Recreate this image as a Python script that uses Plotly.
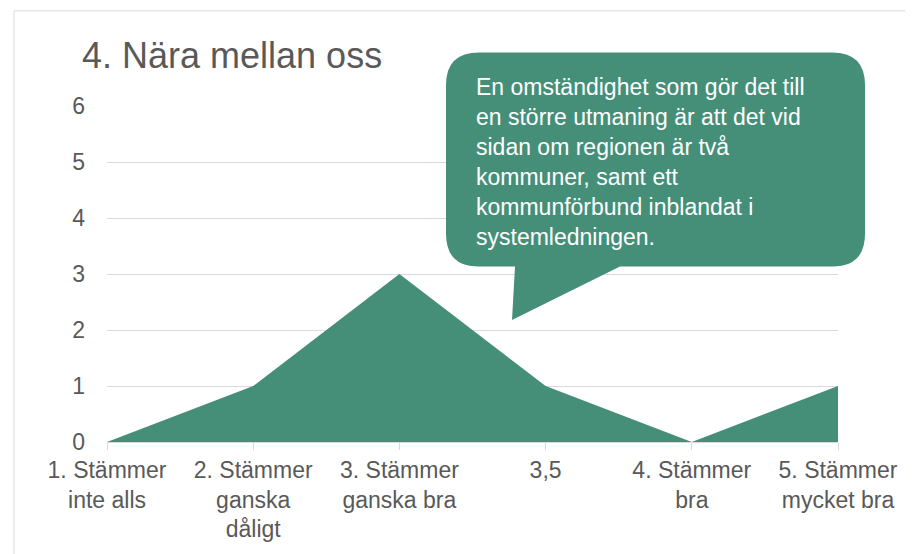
import plotly.graph_objects as go

categories = ["1. Stämmer<br>inte alls", "2. Stämmer<br>ganska<br>dåligt", "3. Stämmer<br>ganska bra",
              "3,5", "4. Stämmer<br>bra", "5. Stämmer<br>mycket bra"]
values = [0, 1, 3, 1, 0, 1]
y_ticks = [0, 1, 2, 3, 4, 5, 6]
title_text = "4. Nära mellan oss"
bubble_text = ("En omständighet som gör det till<br>en större utmaning är att det vid<br>"
               "sidan om regionen är två<br>kommuner, samt ett<br>kommunförbund inblandat i<br>"
               "systemledningen.")

OFF = 8  # page body margin
W, H = 913 - OFF, 554 - OFF
PL, PR, PT, PB = 107, 838, 106, 445  # plot area in window pixels
L, R, T, B = PL - OFF, W - (PR - OFF), PT - OFF, H - (PB - OFF)
GREEN = "#458f79"
GREY = "#595959"
GRID = "#d9d9d9"
FONT = "Liberation Sans, Arial, sans-serif"

def px(x):
    return (x - PL) / (PR - PL)

def py(y):
    return (PB - y) / (PB - PT)

xs = list(range(len(categories)))

fig = go.Figure()
fig.add_trace(go.Scatter(x=xs, y=values, mode="lines", fill="tozeroy",
                         fillcolor=GREEN, line=dict(width=0, color=GREEN),
                         hoverinfo="skip", showlegend=False))

# speech bubble (window pixel coordinates)
x0, x1, y0, y1, r = 446, 865, 52, 268, 33
pts = [("M", [(x0 + r, y0)]), ("L", [(x1 - r, y0)]), ("Q", [(x1, y0), (x1, y0 + r)]),
       ("L", [(x1, y1 - r)]), ("Q", [(x1, y1), (x1 - r, y1)]), ("L", [(620, y1)]),
       ("L", [(512, 322)]), ("L", [(515, y1)]), ("L", [(x0 + r, y1)]),
       ("Q", [(x0, y1), (x0, y1 - r)]), ("L", [(x0, y0 + r)]), ("Q", [(x0, y0), (x0 + r, y0)])]
path = ""
for cmd, coords in pts:
    path += cmd + " " + " ".join(f"{px(a):.5f},{py(b):.5f}" for a, b in coords) + " "
path += "Z"

shapes = [
    dict(type="rect", xref="paper", yref="paper", x0=px(14), x1=px(1000), y0=py(10), y1=py(700),
         line=dict(color=GRID, width=1), fillcolor="rgba(0,0,0,0)", layer="below"),
    dict(type="path", xref="paper", yref="paper", path=path, fillcolor=GREEN,
         line=dict(width=0), layer="above"),
]

annotations = [
    dict(text=title_text, xref="paper", yref="paper", x=px(80), y=py(55), xanchor="left",
         yanchor="middle", showarrow=False, font=dict(size=36, color=GREY, family=FONT)),
    dict(text=bubble_text, xref="paper", yref="paper", x=px(474), y=py(72), xanchor="left",
         yanchor="top", align="left", showarrow=False,
         font=dict(size=23, color="white", family=FONT)),
]

fig.update_layout(
    width=W, height=H, margin=dict(l=L, r=R, t=T, b=B),
    paper_bgcolor="white", plot_bgcolor="white",
    font=dict(family=FONT, color=GREY, size=23),
    shapes=shapes, annotations=annotations, showlegend=False,
    xaxis=dict(range=[0, len(categories) - 1], tickmode="array", tickvals=xs, ticktext=categories,
               showgrid=False, zeroline=False, showline=True, linecolor=GRID, linewidth=1,
               ticks="outside", ticklen=7, tickcolor=GRID, tickangle=0,
               tickfont=dict(size=23, color=GREY, family=FONT)),
    yaxis=dict(range=[0, 6], tickmode="array", tickvals=y_ticks, showgrid=True, gridcolor=GRID,
               gridwidth=1, zeroline=False, showline=False, ticks="", ticklabelstandoff=21,
               tickfont=dict(size=23, color=GREY, family=FONT)),
)

fig.write_html("out.html")
